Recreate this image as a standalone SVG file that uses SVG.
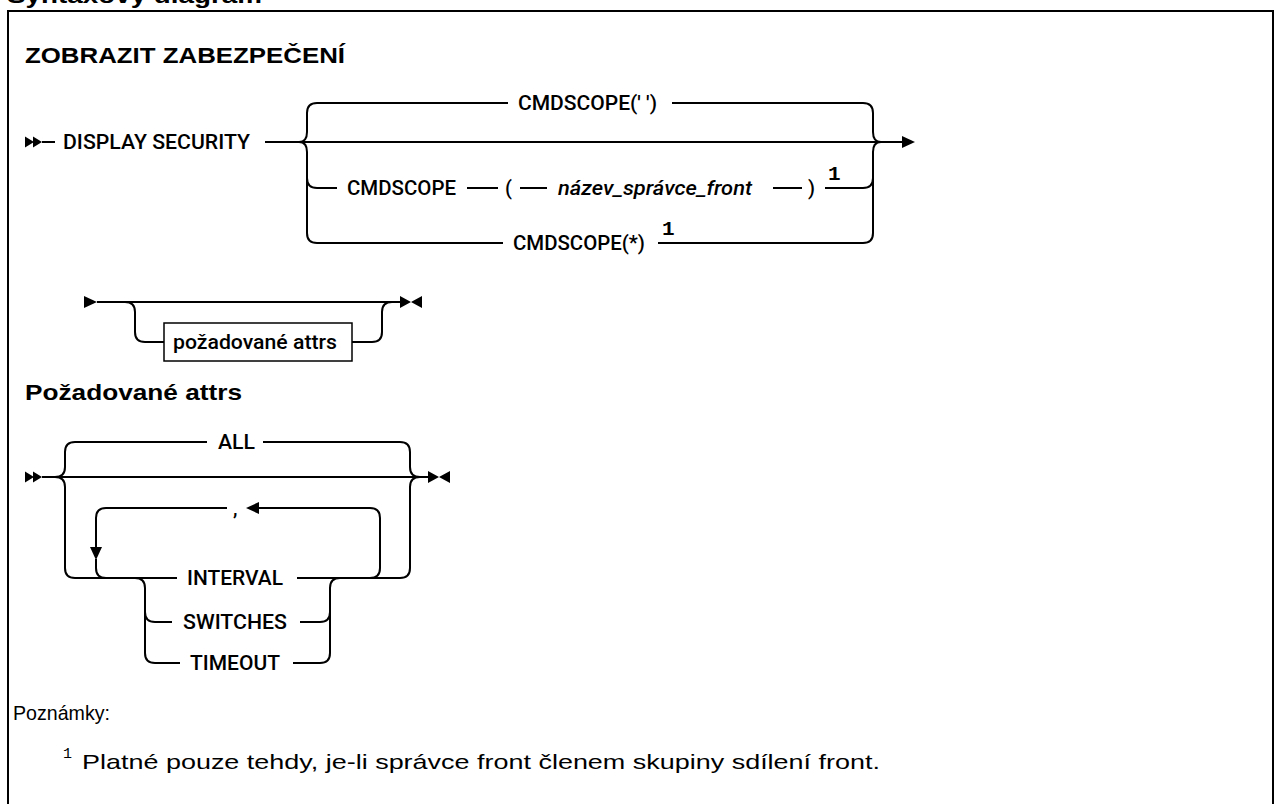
<svg xmlns="http://www.w3.org/2000/svg" width="1274" height="804" viewBox="0 0 1274 804">
<style>
.ln{fill:none;stroke:#000;stroke-width:2}
.lbl{font-family:Roboto,"Liberation Sans",sans-serif;font-size:20px;font-weight:500;fill:#000}
.var{font-style:italic}
.h{font-family:"Liberation Sans",Arial,sans-serif;font-weight:bold;font-size:22px;fill:#000}
.sup{font-family:"Liberation Mono",monospace;font-size:21px;font-weight:bold;fill:#000}
.note{font-family:"Liberation Sans",Arial,sans-serif;font-size:21px;fill:#000}
.nsup{font-family:"Liberation Mono",monospace;font-size:15px;fill:#000}
.mk{fill:#000;stroke:none}
.box{fill:#fff;stroke:#000;stroke-width:1.5}
</style>
<defs>
<path id="dbl" d="M0,-5.5 L9,0 L0,5.5 Z M8,-5.5 L17,0 L8,5.5 Z"/>
<path id="stop" d="M0,-6 L11,0 L0,6 Z M22,-6 L11,0 L22,6 Z"/>
<path id="arr" d="M0,-6 L13,0 L0,6 Z"/>
</defs>
<rect x="0" y="0" width="1274" height="804" fill="#fff"/>
<text class="h" x="7" y="3" textLength="255" lengthAdjust="spacingAndGlyphs">Syntaxový diagram</text>
<rect x="8" y="11" width="1265" height="820" fill="none" stroke="#000" stroke-width="2"/>

<g id="title"><text class="h" x="25" y="63" textLength="320" lengthAdjust="spacingAndGlyphs">ZOBRAZIT ZABEZPEČENÍ</text></g>
<g id="heading-attrs"><text class="h" x="25" y="400" textLength="217" lengthAdjust="spacingAndGlyphs">Požadované attrs</text></g>

<g id="connectors" class="ln">
<!-- diagram 1 -->
<path d="M42,142 H55 M265,142 H902"/>
<path d="M317,103 Q307,103 307,113 V132 Q307,142 299,142 M299,142 Q307,142 307,152 V233 Q307,243 317,243 M307,178 Q307,188 317,188"/>
<path d="M317,103 H508 M672,103 H863"/>
<path d="M863,103 Q873,103 873,113 V132 Q873,142 881,142 M881,142 Q873,142 873,152 V233 Q873,243 863,243 M863,188 Q873,188 873,178"/>
<path d="M317,188 H337 M467,188 H498 M520,188 H547 M773,188 H802 M825,188 H863"/>
<path d="M317,243 H503 M658,243 H863"/>
<!-- diagram 2 -->
<path d="M97,302 H400"/>
<path d="M125,302 Q135,302 135,312 V332 Q135,342 145,342 H164"/>
<path d="M352,342 H372 Q382,342 382,332 V312 Q382,302 392,302"/>
<!-- diagram 3 -->
<path d="M42,477 H428"/>
<path d="M75,442 Q65,442 65,452 V467 Q65,477 55,477 M55,477 Q65,477 65,487 V568 Q65,578 75,578"/>
<path d="M75,442 H207 M263,442 H400"/>
<path d="M400,442 Q410,442 410,452 V467 Q410,477 420,477 M420,477 Q410,477 410,487 V568 Q410,578 400,578"/>
<path d="M75,578 H177 M297,578 H400"/>
<path d="M370,578 Q380,578 380,568 V518 Q380,508 370,508 H258 M227,508 H106 Q96,508 96,518 V548 M96,559 V568 Q96,578 106,578"/>
<path d="M135,578 Q145,578 145,588 V653 Q145,663 155,663 M145,612 Q145,622 155,622"/>
<path d="M340,578 Q330,578 330,588 V653 Q330,663 320,663 M320,622 Q330,622 330,612"/>
<path d="M155,622 H172 M300,622 H320 M155,663 H180 M293,663 H320"/>
</g>

<g id="markers" class="mk">
<use href="#dbl" transform="translate(25,142)"/>
<use href="#arr" transform="translate(902,142)"/>
<use href="#arr" transform="translate(84,302)"/>
<use href="#stop" transform="translate(400,302)"/>
<use href="#dbl" transform="translate(25,477)"/>
<use href="#stop" transform="translate(428,477)"/>
<path d="M246,508 L259,502 L259,514 Z"/>
<path d="M90,547 L102,547 L96,560 Z"/>
</g>

<g id="n-display-security"><text class="lbl" x="63" y="149" textLength="187" lengthAdjust="spacingAndGlyphs">DISPLAY SECURITY</text></g>
<g id="n-cmdscope-blank"><text class="lbl" x="518" y="110" textLength="139" lengthAdjust="spacingAndGlyphs">CMDSCOPE(' ')</text></g>
<g id="n-cmdscope"><text class="lbl" x="347" y="195" textLength="109" lengthAdjust="spacingAndGlyphs">CMDSCOPE</text></g>
<g id="n-lparen"><text class="lbl" x="505" y="195">(</text></g>
<g id="n-qmgr"><text class="lbl var" x="558" y="195" textLength="194" lengthAdjust="spacingAndGlyphs">název_správce_front</text></g>
<g id="n-rparen"><text class="lbl" x="808" y="195">)</text></g>
<g id="n-sup1a"><text class="sup" x="828" y="180">1</text></g>
<g id="n-cmdscope-star"><text class="lbl" x="513" y="250" textLength="132" lengthAdjust="spacingAndGlyphs">CMDSCOPE(*)</text></g>
<g id="n-sup1b"><text class="sup" x="662" y="235">1</text></g>

<g id="n-attrs-ref">
<rect class="box" x="164" y="323" width="188" height="38"/>
<text class="lbl" x="173" y="349" textLength="164" lengthAdjust="spacingAndGlyphs">požadované attrs</text>
</g>

<g id="n-all"><text class="lbl" x="218" y="449" textLength="37" lengthAdjust="spacingAndGlyphs">ALL</text></g>
<g id="n-comma"><text class="lbl" x="233" y="515">,</text></g>
<g id="n-interval"><text class="lbl" x="187" y="585" textLength="96" lengthAdjust="spacingAndGlyphs">INTERVAL</text></g>
<g id="n-switches"><text class="lbl" x="183" y="629" textLength="104" lengthAdjust="spacingAndGlyphs">SWITCHES</text></g>
<g id="n-timeout"><text class="lbl" x="190" y="670" textLength="90" lengthAdjust="spacingAndGlyphs">TIMEOUT</text></g>

<g id="notes">
<text class="note" x="13" y="720" textLength="97" lengthAdjust="spacingAndGlyphs">Poznámky:</text>
<text class="nsup" x="63" y="758">1</text>
<text class="note" x="82" y="769" textLength="798" lengthAdjust="spacingAndGlyphs">Platné pouze tehdy, je-li správce front členem skupiny sdílení front.</text>
</g>
</svg>
